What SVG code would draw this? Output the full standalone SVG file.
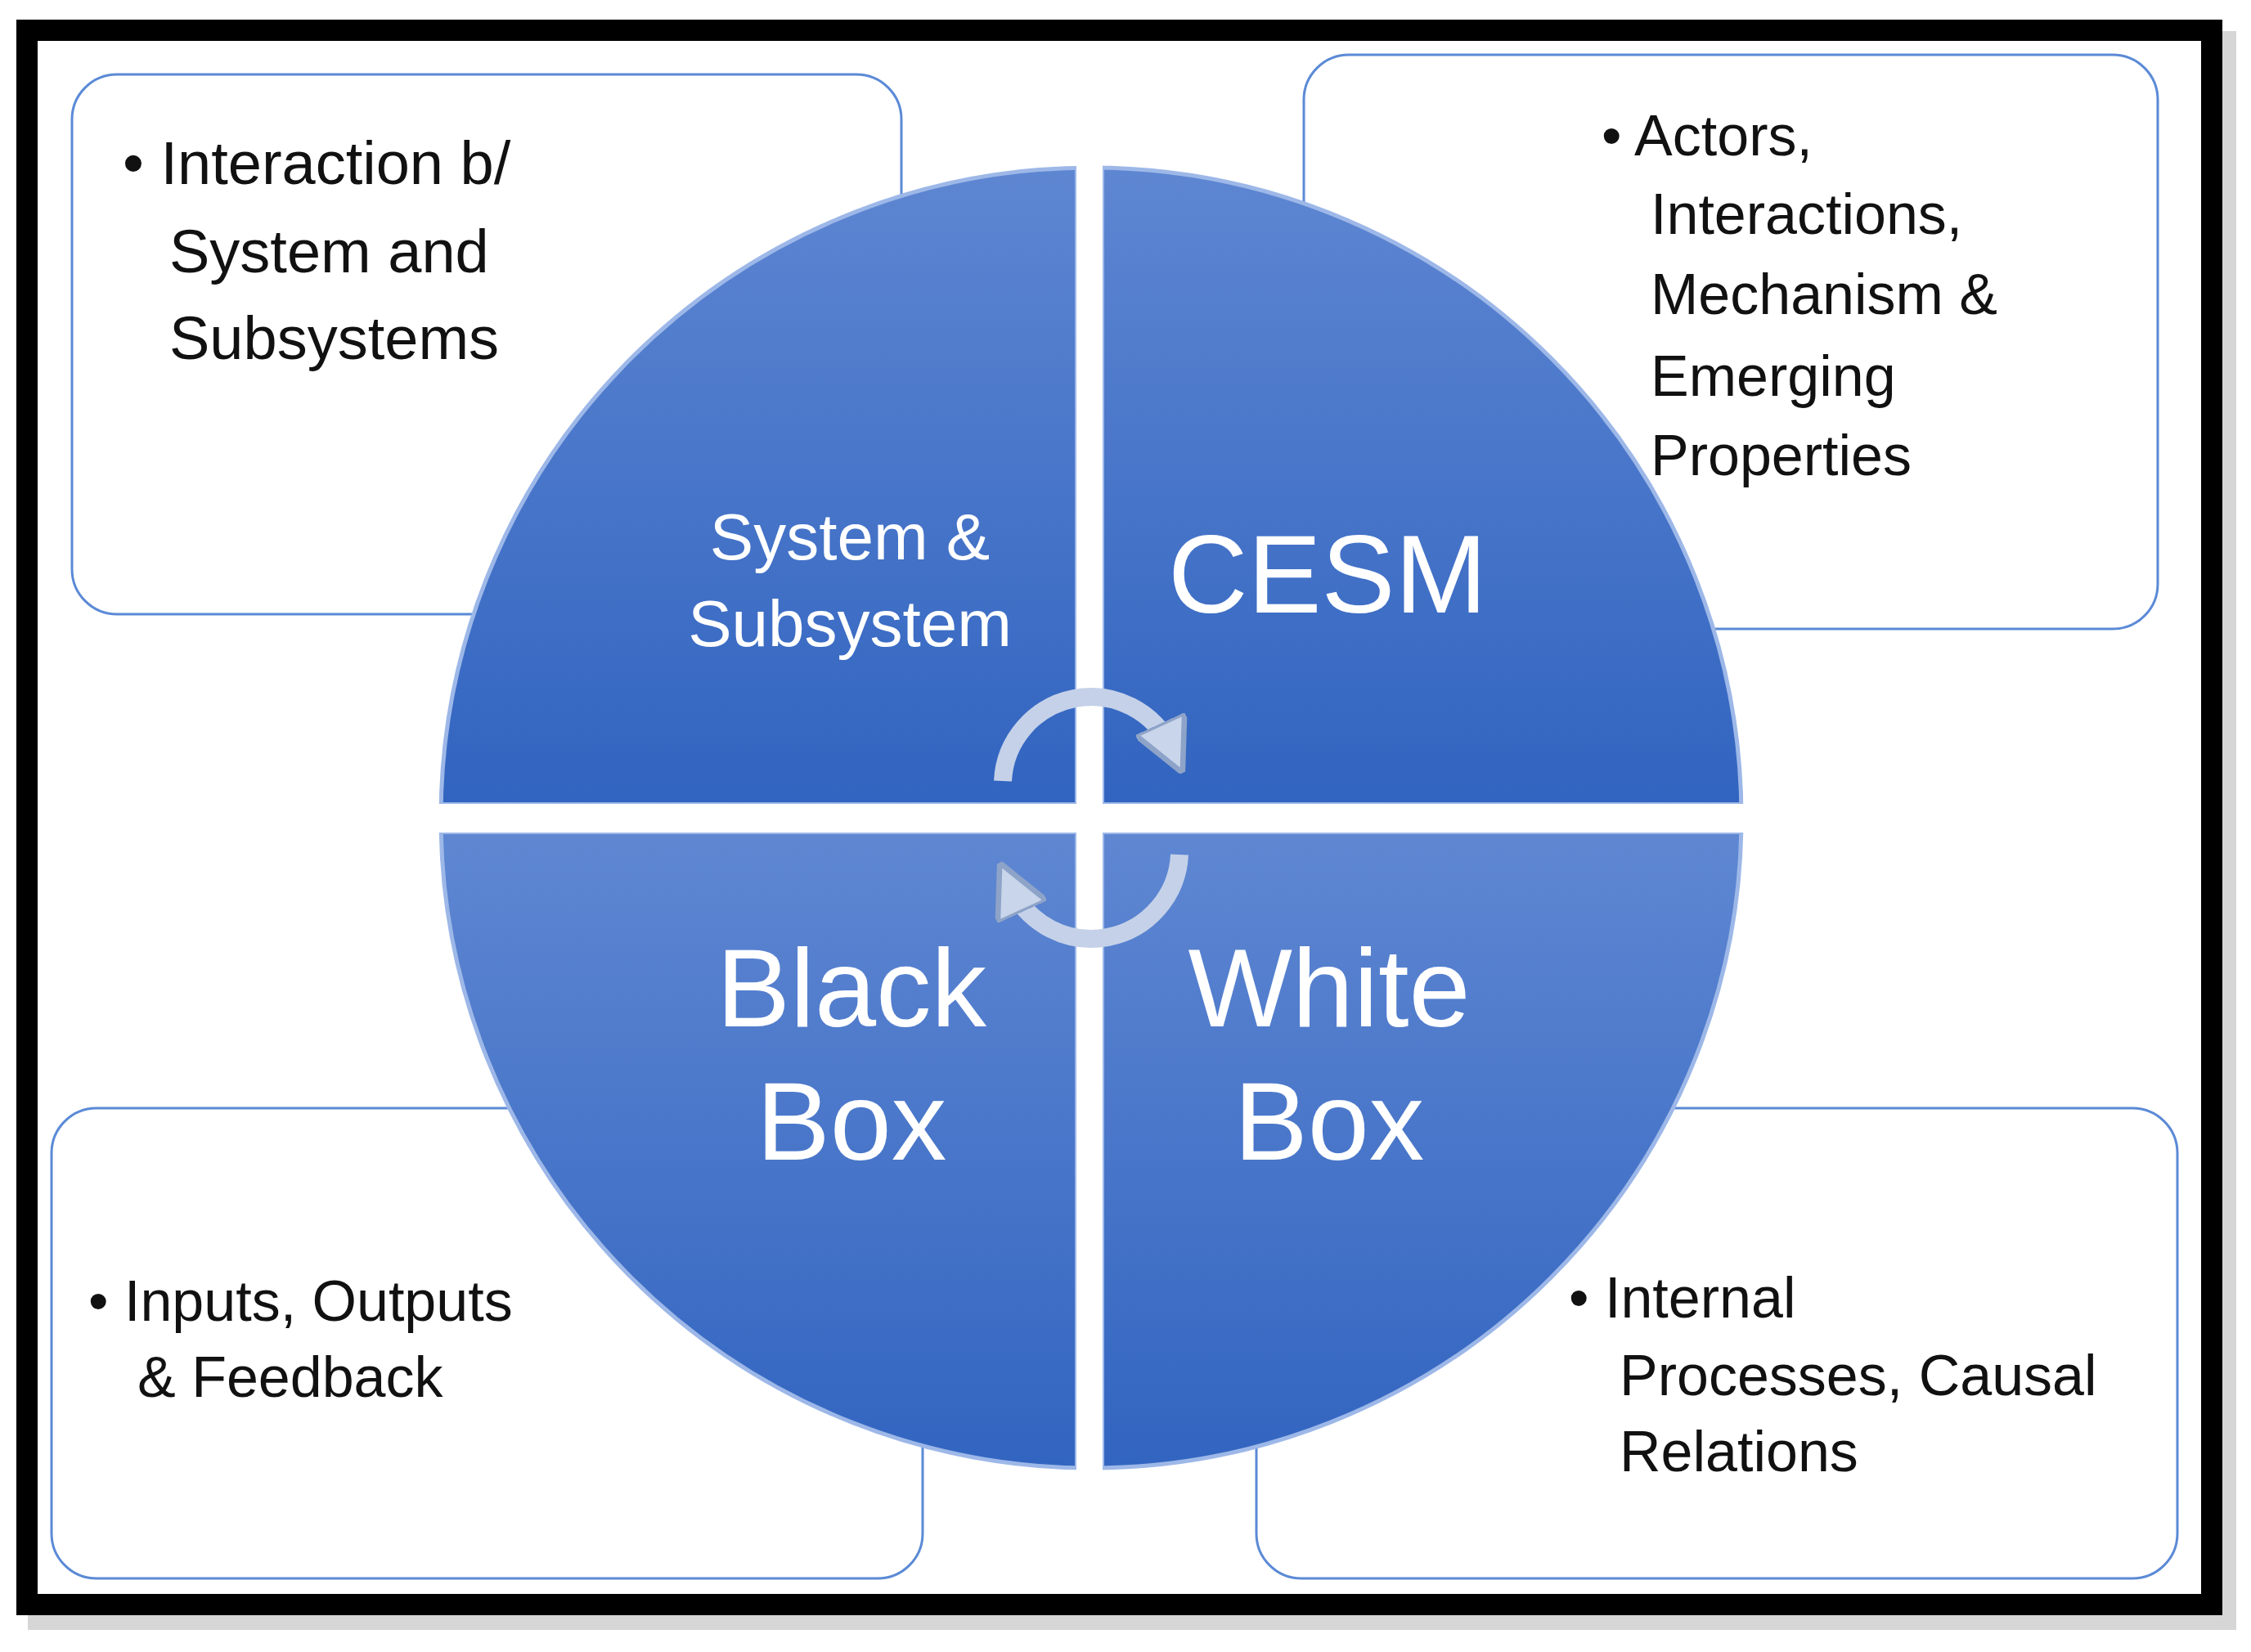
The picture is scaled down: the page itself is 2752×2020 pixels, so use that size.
<svg xmlns="http://www.w3.org/2000/svg" width="2752" height="2020" viewBox="0 0 2752 2020">
<defs>
<linearGradient id="qg" x1="0" y1="0" x2="0" y2="1"><stop offset="0" stop-color="#5f87d2"/><stop offset="1" stop-color="#3164c0"/></linearGradient>
<linearGradient id="ag" x1="0" y1="0" x2="0" y2="1"><stop offset="0" stop-color="#e8eef8"/><stop offset="1" stop-color="#9fb3d6"/></linearGradient>
<clipPath id="c"><circle cx="1334" cy="1000" r="795"/></clipPath>
<marker id="ah" viewBox="0 0 10 10" refX="5" refY="5" markerWidth="3" markerHeight="3" orient="auto"><path d="M0,0 L10,5 L0,10 Z" fill="#c9d5ea" stroke="#8ea3c8" stroke-width="1"/></marker>
</defs>
<style>
.box{fill:#fff;stroke:#5b8ad6;stroke-width:3}
.t{font-family:"Liberation Sans",Arial,sans-serif;fill:#111;font-size:74px}
.w{font-family:"Liberation Sans",Arial,sans-serif;fill:#fff;text-anchor:middle}
.q{fill:url(#qg);stroke:#9db8e8;stroke-width:4}
</style>
<rect x="0" y="0" width="2752" height="2020" fill="#fff"/>
<rect x="34" y="38" width="2700" height="1955" fill="#bbb" opacity="0.6"/>
<rect x="33" y="37" width="2671" height="1925" fill="#fff" stroke="#000" stroke-width="26"/>
<g id="box-tl"><rect class="box" x="88" y="91" width="1014" height="660" rx="55"/>
<text class="t"><tspan x="150" y="225">• Interaction b/</tspan><tspan x="207" y="333">System and</tspan><tspan x="207" y="439">Subsystems</tspan></text></g>
<g id="box-tr"><rect class="box" x="1594" y="67" width="1044" height="702" rx="55"/>
<text class="t" style="font-size:70px"><tspan x="1958" y="190">• Actors,</tspan><tspan x="2018" y="286">Interactions,</tspan><tspan x="2018" y="384">Mechanism &amp;</tspan><tspan x="2018" y="484">Emerging</tspan><tspan x="2018" y="581">Properties</tspan></text></g>
<g id="box-bl"><rect class="box" x="63" y="1355" width="1065" height="575" rx="55"/>
<text class="t" style="font-size:70px"><tspan x="108" y="1615">• Inputs, Outputs</tspan><tspan x="168" y="1708">&amp; Feedback</tspan></text></g>
<g id="box-br"><rect class="box" x="1536" y="1355" width="1126" height="575" rx="55"/>
<text class="t" style="font-size:70px"><tspan x="1918" y="1611">• Internal</tspan><tspan x="1980" y="1706">Processes, Causal</tspan><tspan x="1980" y="1799">Relations</tspan></text></g>
<g clip-path="url(#c)">
<g id="q-tl"><rect class="q" x="520" y="190" width="796" height="793"/><text class="w" font-size="80"><tspan x="1039" y="684">System &amp;</tspan><tspan x="1039" y="790">Subsystem</tspan></text></g>
<g id="q-tr"><rect class="q" x="1348" y="190" width="800" height="793"/><text class="w" font-size="135" x="1623" y="749">CESM</text></g>
<g id="q-bl"><rect class="q" x="520" y="1018" width="796" height="790"/><text class="w" font-size="135"><tspan x="1041" y="1255">Black</tspan><tspan x="1041" y="1418">Box</tspan></text></g>
<g id="q-br"><rect class="q" x="1348" y="1018" width="800" height="790"/><text class="w" font-size="135"><tspan x="1625" y="1255">White</tspan><tspan x="1625" y="1418">Box</tspan></text></g>
</g>
<circle cx="1334" cy="1000" r="795" fill="none" stroke="#9db8e8" stroke-width="5"/>
<rect x="1316" y="180" width="32" height="1640" fill="#fff"/>
<rect x="520" y="983" width="1640" height="35" fill="#fff"/>
<g id="connectors" fill="none" stroke="url(#ag)" stroke-width="22">
<path d="M1226,955 A108,108 0 0 1 1432,915" marker-end="url(#ah)" stroke="#c4d1e8"/>
<path d="M1442,1045 A108,108 0 0 1 1236,1085" marker-end="url(#ah)" stroke="#c4d1e8"/>
</g>
</svg>
